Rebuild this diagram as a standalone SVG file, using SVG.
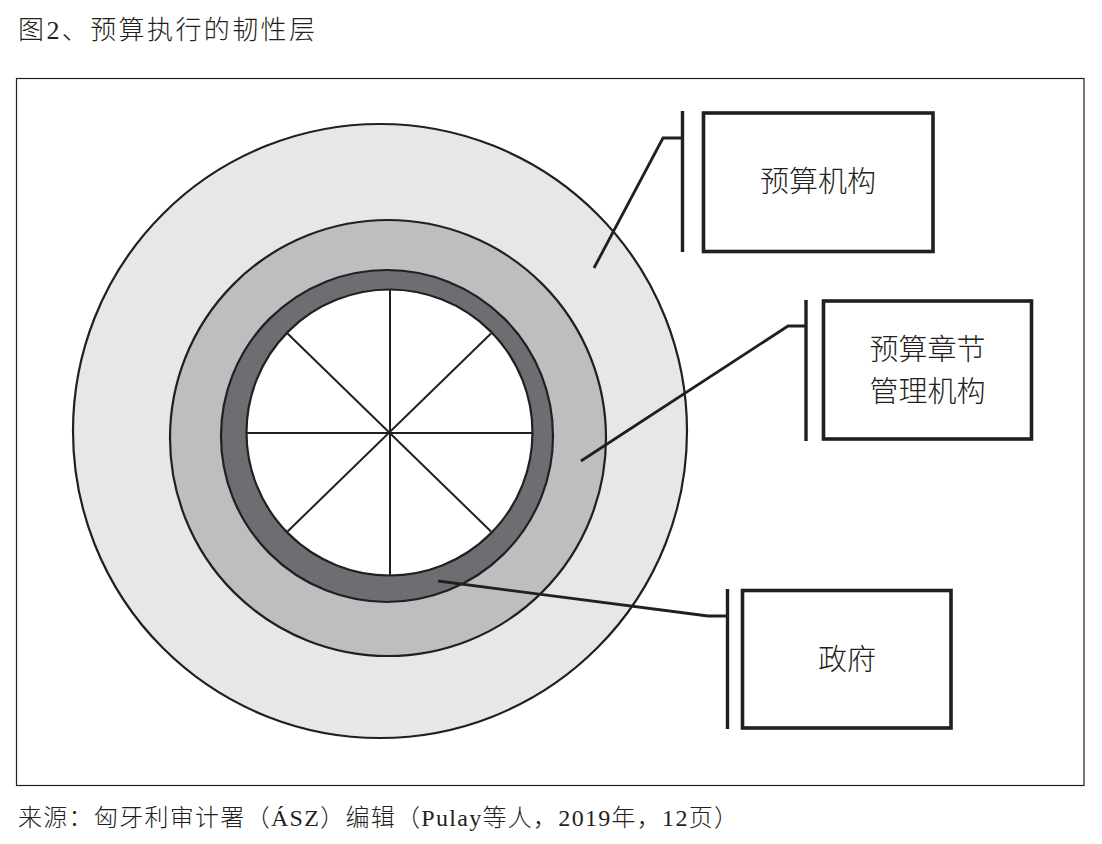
<svg xmlns="http://www.w3.org/2000/svg" width="1102" height="844" viewBox="0 0 1102 844">
<style>
.ln{stroke:#231f20;fill:none}
.ring{stroke:#231f20;stroke-width:2.2}
.box{fill:#fff;stroke:#231f20;stroke-width:3.6}
.bar{stroke:#231f20;stroke-width:3.4}
.lead{stroke:#231f20;stroke-width:2.8;fill:none;stroke-linejoin:miter}
.lbl{font-family:"Liberation Serif","Noto Sans CJK SC",serif;font-size:29px;font-weight:300;fill:#231f20;text-anchor:middle}
.cap{font-family:"Liberation Serif","Noto Sans CJK SC",serif;font-weight:300;fill:#231f20}
</style>
<rect width="1102" height="844" fill="#fff"/>
<text class="cap" x="18" y="39" font-size="26" textLength="297" lengthAdjust="spacing">图2、预算执行的韧性层</text>
<rect x="16.5" y="78.5" width="1067.5" height="707" fill="none" stroke="#231f20" stroke-width="1.2"/>
<g id="rings">
<circle class="ring" cx="380" cy="431" r="307" fill="#e6e7e8"/>
<circle class="ring" cx="388" cy="438" r="218" fill="#bcbec0"/>
<circle class="ring" cx="387" cy="436" r="166" fill="#6d6e71"/>
<circle class="ring" cx="389.5" cy="432.5" r="143" fill="#fff"/>
<g class="ln" stroke-width="2">
<line x1="390" y1="290" x2="390" y2="575"/>
<line x1="247" y1="433" x2="532" y2="433"/>
<line x1="287.5" y1="333.5" x2="491" y2="531.5"/>
<line x1="491" y1="333.5" x2="287.5" y2="531.5"/>
</g>
</g>
<g id="connectors">
<polyline class="lead" points="594,268 663,138 682,138"/>
<polyline class="lead" points="581,461 788,326 806,326"/>
<polyline class="lead" points="438,581 708,616 727,616"/>
</g>
<g id="node-yusuan-jigou">
<line class="bar" x1="682.5" y1="111" x2="682.5" y2="252"/>
<rect class="box" x="703.5" y="113" width="229.5" height="138.5"/>
<text class="lbl" x="818" y="192">预算机构</text>
</g>
<g id="node-zhangjie">
<line class="bar" x1="806" y1="300" x2="806" y2="441"/>
<rect class="box" x="823.5" y="301" width="208" height="138"/>
<text class="lbl" x="927.5" y="360">预算章节</text>
<text class="lbl" x="927.5" y="402">管理机构</text>
</g>
<g id="node-zhengfu">
<line class="bar" x1="727.5" y1="589" x2="727.5" y2="729"/>
<rect class="box" x="742.5" y="590.5" width="208.5" height="137.5"/>
<text class="lbl" x="847" y="670">政府</text>
</g>
<text class="cap" x="18" y="826" font-size="24" textLength="720" lengthAdjust="spacing">来源：匈牙利审计署（ÁSZ）编辑（Pulay等人，2019年，12页）</text>
</svg>
